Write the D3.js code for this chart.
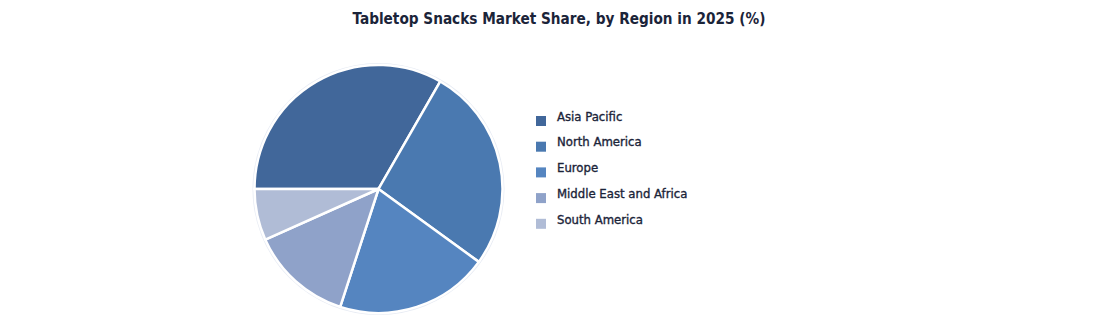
<!DOCTYPE html>
<html>
<head>
<meta charset="utf-8">
<script src="https://cdn.jsdelivr.net/npm/d3@7"></script>
<style>
  body { margin: 0; background: #fff; }
  text { font-family: "DejaVu Sans Condensed", "DejaVu Sans", sans-serif; }
</style>
</head>
<body>
<div id="chart"></div>
<script>
// chart data
var regions = ["Asia Pacific", "North America", "Europe", "Middle East and Africa", "South America"];
var shares = [33.3, 26.7, 20.0, 13.3, 6.7];
var colours = ["#41679a", "#4a79b0", "#5585c0", "#8fa2c9", "#b0bcd6"];
var title = "Tabletop Snacks Market Share, by Region in 2025 (%)";

var svgWidth = 1118, svgHeight = 315;
var cx = 378.5, cy = 189, radius = 124;

var svg = d3.select("#chart").append("svg")
    .attr("width", svgWidth)
    .attr("height", svgHeight);

svg.append("text")
    .attr("x", 559)
    .attr("y", 24)
    .attr("text-anchor", "middle")
    .attr("fill", "#1b2439")
    .style("font-size", "15.2px")
    .style("font-weight", "bold")
    .text(title);

var pieData = regions.map((r, i) => ({ region: r, value: shares[i] }));

var pie = d3.pie()
    .value(d => d.value)
    .sort(null)
    .startAngle(-Math.PI / 2)
    .endAngle(1.5 * Math.PI);

var arc = d3.arc().innerRadius(0).outerRadius(radius);

var colour = d3.scaleOrdinal().domain(regions).range(colours);

var plotArea = svg.append("g")
    .attr("transform", "translate(" + cx + "," + cy + ")");

// faint ring round the pie
plotArea.append("circle")
    .attr("r", radius + 1)
    .attr("fill", "none")
    .attr("stroke", "#e8ecf4")
    .attr("stroke-width", 2);

plotArea.selectAll(".slice")
    .data(pie(pieData))
    .enter()
    .append("path")
    .attr("class", "slice")
    .attr("d", arc)
    .style("fill", d => colour(d.data.region))
    .style("stroke", "#fff")
    .style("stroke-width", 2.5);

var legend = svg.append("g")
    .attr("transform", "translate(536,116)");

var items = legend.selectAll(".item")
    .data(regions)
    .enter()
    .append("g")
    .attr("class", "item")
    .attr("transform", (d, i) => "translate(0," + (i * 25.7) + ")");

items.append("rect")
    .attr("x", 0)
    .attr("y", 0)
    .attr("width", 10)
    .attr("height", 10)
    .style("fill", d => colour(d));

items.append("text")
    .attr("x", 21)
    .attr("y", 4.7)
    .attr("fill", "#1b2439")
    .attr("stroke", "#1b2439")
    .attr("stroke-width", 0.35)
    .style("font-size", "13px")
    .text(d => d);
</script>
</body>
</html>
